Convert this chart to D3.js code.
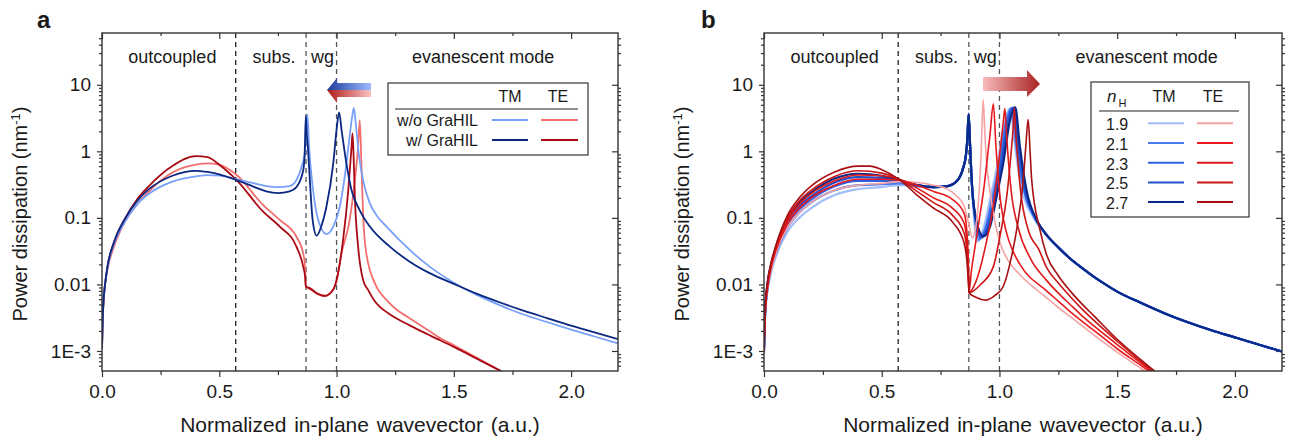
<!DOCTYPE html>
<html>
<head>
<meta charset="utf-8">
<script src="https://cdn.jsdelivr.net/npm/d3@7"></script>
<style>
  body { margin: 0; background: #fff; }
  svg text { font-family: "Liberation Sans", Arial, sans-serif; fill: #1a1a1a; }
</style>
</head>
<body>
<div id="chart"></div>
<script>
// axis ticks and region labels
const xTickValues = [0, 0.5, 1, 1.5, 2];
const xTickLabels = ['0.0', '0.5', '1.0', '1.5', '2.0'];
const xMinorValues = [0.25, 0.75, 1.25, 1.75];
const yTickValues = [1e-3, 0.01, 0.1, 1, 10];
const yTickLabels = ['1E-3', '0.01', '0.1', '1', '10'];
const regionBounds = [0.57, 0.87, 1.0];
const regionLabels = ['outcoupled', 'subs.', 'wg', 'evanescent mode'];
const regionCenters = [0.30, 0.733, 0.94, 1.625];

// panel a: [wavevector, power dissipation]
const aTmWithout = [[0,0.0011],[0.003,0.003],[0.007,0.006],[0.013,0.01],[0.025,0.019],[0.05,0.04],[0.1,0.09],[0.15,0.16],[0.2,0.23],[0.3,0.35],[0.4,0.42],[0.45,0.44],[0.5,0.43],[0.574,0.38],[0.65,0.33],[0.7,0.30],[0.75,0.29],[0.8,0.30],[0.829,0.37],[0.852,0.6],[0.864,0.9],[0.87,1.6],[0.876,3.6],[0.883,1.17],[0.9,0.26],[0.922,0.093],[0.957,0.057],[0.986,0.074],[1.014,0.148],[1.035,0.42],[1.054,1.48],[1.066,3.2],[1.074,4.5],[1.082,2.6],[1.095,0.9],[1.113,0.37],[1.142,0.165],[1.17,0.11],[1.213,0.074],[1.312,0.033],[1.397,0.0185],[1.5,0.0106],[1.6,0.0069],[1.7,0.0048],[1.8,0.0035],[1.9,0.0027],[2.0,0.0021],[2.1,0.00165],[2.2,0.0013]];
const aTmWith = [[0,0.0011],[0.003,0.003],[0.007,0.006],[0.013,0.01],[0.025,0.02],[0.05,0.042],[0.1,0.1],[0.15,0.18],[0.2,0.27],[0.3,0.43],[0.4,0.51],[0.45,0.49],[0.5,0.45],[0.574,0.37],[0.65,0.29],[0.7,0.25],[0.75,0.235],[0.8,0.25],[0.829,0.29],[0.858,0.52],[0.864,0.9],[0.869,3.4],[0.873,1.9],[0.879,1.0],[0.888,0.29],[0.898,0.093],[0.915,0.054],[0.935,0.075],[0.957,0.148],[0.986,0.66],[1.0,2.1],[1.011,3.85],[1.022,2.0],[1.042,0.66],[1.064,0.26],[1.099,0.13],[1.142,0.074],[1.227,0.037],[1.312,0.022],[1.397,0.0148],[1.5,0.0102],[1.6,0.0072],[1.7,0.0053],[1.8,0.004],[1.9,0.0031],[2.0,0.0024],[2.1,0.0019],[2.2,0.0015]];
const aTeWithout = [[0,0.0011],[0.003,0.003],[0.007,0.006],[0.013,0.01],[0.025,0.018],[0.05,0.036],[0.1,0.09],[0.15,0.16],[0.2,0.25],[0.3,0.48],[0.4,0.63],[0.45,0.66],[0.5,0.63],[0.574,0.44],[0.687,0.156],[0.758,0.093],[0.829,0.052],[0.858,0.029],[0.866,0.018],[0.869,0.0093],[0.886,0.0085],[0.92,0.0072],[0.95,0.0068],[0.986,0.0085],[1.0,0.011],[1.021,0.029],[1.056,0.093],[1.078,0.37],[1.092,1.17],[1.099,2.95],[1.106,0.66],[1.113,0.117],[1.127,0.029],[1.17,0.0093],[1.21,0.006],[1.255,0.0042],[1.3,0.0033],[1.369,0.0023],[1.45,0.0015],[1.5,0.00122],[1.6,0.00078],[1.7,0.0005],[1.75,0.0004]];
const aTeWith = [[0,0.0011],[0.003,0.003],[0.007,0.006],[0.013,0.01],[0.025,0.02],[0.05,0.042],[0.1,0.1],[0.15,0.19],[0.2,0.3],[0.3,0.6],[0.4,0.85],[0.45,0.82],[0.5,0.63],[0.574,0.37],[0.687,0.124],[0.758,0.074],[0.829,0.037],[0.858,0.0185],[0.866,0.013],[0.869,0.0093],[0.886,0.0088],[0.92,0.0072],[0.95,0.0067],[0.986,0.0083],[1.0,0.0117],[1.028,0.047],[1.05,0.26],[1.064,1.17],[1.068,1.86],[1.073,0.8],[1.078,0.21],[1.092,0.037],[1.113,0.0117],[1.135,0.0082],[1.16,0.0058],[1.185,0.0046],[1.22,0.0037],[1.27,0.0029],[1.325,0.0023],[1.4,0.0017],[1.5,0.00115],[1.6,0.00076],[1.7,0.0005],[1.75,0.0004]];

// panel b: TM and TE for n_H = 1.9 ... 2.7
const nHValues = ['1.9', '2.1', '2.3', '2.5', '2.7'];
const bTm19 = [[0,0.0009],[0.003,0.0024],[0.007,0.0045],[0.015,0.008],[0.03,0.015],[0.05,0.026],[0.1,0.062],[0.15,0.1],[0.2,0.14],[0.3,0.22],[0.4,0.27],[0.5,0.29],[0.574,0.31],[0.65,0.3],[0.72,0.29],[0.78,0.3],[0.82,0.36],[0.845,0.55],[0.858,0.9],[0.864,1.6],[0.869,3.5],[0.874,1.5],[0.882,0.35],[0.893,0.095],[0.905,0.044],[0.93,0.065],[0.96,0.19],[0.99,0.6],[1.022,2.7],[1.045,4.4],[1.064,1.4],[1.085,0.4],[1.105,0.2],[1.145,0.1],[1.2,0.055],[1.25,0.036],[1.3,0.0245],[1.35,0.0177],[1.4,0.0131],[1.45,0.01],[1.5,0.0078],[1.6,0.0053],[1.7,0.0037],[1.8,0.0027],[1.9,0.00205],[2.0,0.0016],[2.1,0.00125],[2.2,0.00098]];
const bTm21 = [[0,0.001],[0.003,0.0026],[0.007,0.0048],[0.015,0.0088],[0.03,0.017],[0.05,0.029],[0.1,0.072],[0.15,0.12],[0.2,0.17],[0.3,0.26],[0.4,0.31],[0.5,0.32],[0.574,0.33],[0.65,0.3],[0.72,0.29],[0.78,0.3],[0.82,0.36],[0.845,0.55],[0.858,0.9],[0.864,1.6],[0.869,3.5],[0.874,1.5],[0.882,0.36],[0.895,0.1],[0.913,0.047],[0.94,0.07],[0.97,0.2],[0.998,0.62],[1.028,2.8],[1.051,4.5],[1.07,1.3],[1.09,0.45],[1.11,0.22],[1.15,0.1],[1.2,0.055],[1.25,0.036],[1.3,0.0245],[1.35,0.0177],[1.4,0.0131],[1.45,0.01],[1.5,0.0078],[1.6,0.0053],[1.7,0.0037],[1.8,0.0027],[1.9,0.00205],[2.0,0.0016],[2.1,0.00125],[2.2,0.00098]];
const bTm23 = [[0,0.001],[0.003,0.0027],[0.007,0.005],[0.015,0.0093],[0.03,0.018],[0.05,0.032],[0.1,0.082],[0.15,0.135],[0.2,0.19],[0.3,0.3],[0.4,0.36],[0.5,0.36],[0.574,0.35],[0.65,0.31],[0.72,0.29],[0.78,0.3],[0.82,0.36],[0.845,0.55],[0.858,0.9],[0.864,1.6],[0.869,3.6],[0.874,1.55],[0.882,0.36],[0.896,0.105],[0.92,0.05],[0.946,0.072],[0.976,0.2],[1.004,0.64],[1.034,2.9],[1.057,4.5],[1.076,1.25],[1.1,0.33],[1.155,0.095],[1.2,0.055],[1.25,0.036],[1.3,0.0245],[1.35,0.0177],[1.4,0.0131],[1.45,0.01],[1.5,0.0078],[1.6,0.0053],[1.7,0.0037],[1.8,0.0027],[1.9,0.00205],[2.0,0.0016],[2.1,0.00125],[2.2,0.00098]];
const bTm25 = [[0,0.0011],[0.003,0.0028],[0.007,0.0052],[0.015,0.0098],[0.03,0.019],[0.05,0.034],[0.1,0.092],[0.15,0.15],[0.2,0.21],[0.3,0.34],[0.4,0.41],[0.5,0.4],[0.574,0.36],[0.65,0.31],[0.72,0.29],[0.78,0.3],[0.82,0.36],[0.845,0.55],[0.858,0.9],[0.864,1.6],[0.869,3.6],[0.874,1.55],[0.882,0.37],[0.896,0.11],[0.926,0.051],[0.953,0.073],[0.982,0.21],[1.01,0.65],[1.04,2.9],[1.062,4.6],[1.082,1.2],[1.108,0.29],[1.157,0.094],[1.2,0.055],[1.25,0.036],[1.3,0.0245],[1.35,0.0177],[1.4,0.0131],[1.45,0.01],[1.5,0.0078],[1.6,0.0053],[1.7,0.0037],[1.8,0.0027],[1.9,0.00205],[2.0,0.0016],[2.1,0.00125],[2.2,0.00098]];
const bTm27 = [[0,0.0011],[0.003,0.0029],[0.007,0.0055],[0.015,0.0105],[0.03,0.02],[0.05,0.036],[0.1,0.1],[0.15,0.17],[0.2,0.24],[0.3,0.39],[0.4,0.46],[0.5,0.43],[0.574,0.37],[0.65,0.31],[0.72,0.29],[0.78,0.3],[0.82,0.36],[0.845,0.55],[0.858,0.9],[0.864,1.6],[0.869,3.7],[0.874,1.6],[0.882,0.37],[0.896,0.117],[0.932,0.053],[0.96,0.074],[0.988,0.21],[1.016,0.66],[1.045,2.95],[1.067,4.6],[1.087,1.17],[1.115,0.26],[1.158,0.093],[1.2,0.056],[1.25,0.036],[1.3,0.0245],[1.35,0.0177],[1.4,0.0131],[1.45,0.01],[1.5,0.0078],[1.6,0.0053],[1.7,0.0037],[1.8,0.0027],[1.9,0.00205],[2.0,0.0016],[2.1,0.00125],[2.2,0.00098]];
const bTe19 = [[0,0.0009],[0.003,0.0025],[0.007,0.0047],[0.015,0.0085],[0.03,0.016],[0.05,0.029],[0.1,0.072],[0.15,0.12],[0.2,0.17],[0.3,0.26],[0.4,0.31],[0.5,0.33],[0.574,0.35],[0.65,0.34],[0.72,0.31],[0.78,0.27],[0.82,0.21],[0.85,0.15],[0.87,0.08],[0.885,0.05],[0.9,0.075],[0.912,0.2],[0.922,0.9],[0.931,6.0],[0.937,2.2],[0.945,0.7],[0.96,0.25],[0.98,0.09],[1.0,0.045],[1.04,0.022],[1.087,0.014],[1.2,0.0063],[1.25,0.0045],[1.3,0.0033],[1.35,0.0024],[1.4,0.00175],[1.5,0.00096],[1.6,0.00055],[1.7,0.00032]];
const bTe21 = [[0,0.001],[0.003,0.0027],[0.007,0.005],[0.015,0.009],[0.03,0.018],[0.05,0.032],[0.1,0.082],[0.15,0.14],[0.2,0.2],[0.3,0.31],[0.4,0.38],[0.5,0.38],[0.574,0.37],[0.65,0.31],[0.72,0.25],[0.8,0.19],[0.85,0.117],[0.862,0.06],[0.868,0.022],[0.871,0.0078],[0.88,0.015],[0.9,0.045],[0.917,0.11],[0.935,0.3],[0.946,0.66],[0.96,1.8],[0.974,5.2],[0.985,1.2],[1.0,0.25],[1.03,0.06],[1.055,0.033],[1.087,0.02],[1.2,0.008],[1.25,0.0056],[1.3,0.0039],[1.35,0.0028],[1.4,0.00205],[1.5,0.00108],[1.6,0.00061],[1.7,0.00034]];
const bTe23 = [[0,0.001],[0.003,0.0028],[0.007,0.0052],[0.015,0.0095],[0.03,0.019],[0.05,0.034],[0.1,0.092],[0.15,0.16],[0.2,0.23],[0.3,0.36],[0.4,0.44],[0.5,0.43],[0.574,0.38],[0.65,0.28],[0.72,0.2],[0.8,0.14],[0.85,0.083],[0.862,0.04],[0.868,0.016],[0.871,0.0076],[0.9,0.011],[0.946,0.046],[0.975,0.16],[0.988,0.37],[1.005,1.2],[1.015,2.5],[1.023,4.4],[1.03,1.8],[1.035,1.0],[1.05,0.25],[1.08,0.07],[1.13,0.025],[1.2,0.0115],[1.25,0.0074],[1.3,0.005],[1.35,0.0034],[1.4,0.0024],[1.5,0.00125],[1.6,0.00066],[1.7,0.00035]];
const bTe25 = [[0,0.0011],[0.003,0.0029],[0.007,0.0054],[0.015,0.01],[0.03,0.02],[0.05,0.036],[0.1,0.1],[0.15,0.18],[0.2,0.26],[0.3,0.42],[0.4,0.51],[0.5,0.47],[0.574,0.38],[0.65,0.25],[0.72,0.17],[0.8,0.11],[0.85,0.059],[0.862,0.03],[0.868,0.013],[0.871,0.0075],[0.92,0.01],[0.974,0.0185],[1.005,0.06],[1.031,0.21],[1.05,1.0],[1.058,2.2],[1.063,4.5],[1.068,2.2],[1.075,1.0],[1.09,0.25],[1.12,0.07],[1.17,0.032],[1.2,0.018],[1.25,0.0105],[1.3,0.0066],[1.35,0.0043],[1.4,0.0029],[1.5,0.0014],[1.6,0.0007],[1.7,0.00036]];
const bTe27 = [[0,0.0011],[0.003,0.003],[0.007,0.0056],[0.015,0.011],[0.03,0.021],[0.05,0.038],[0.1,0.11],[0.15,0.2],[0.2,0.3],[0.3,0.49],[0.4,0.6],[0.45,0.6],[0.5,0.53],[0.574,0.38],[0.65,0.22],[0.72,0.14],[0.8,0.087],[0.85,0.042],[0.862,0.022],[0.868,0.011],[0.871,0.0075],[0.9,0.0064],[0.94,0.0058],[0.98,0.0068],[1.016,0.0093],[1.05,0.025],[1.073,0.066],[1.101,0.37],[1.112,1.2],[1.122,3.0],[1.13,1.0],[1.137,0.37],[1.172,0.066],[1.2,0.028],[1.25,0.0135],[1.3,0.008],[1.35,0.0051],[1.4,0.0034],[1.5,0.0015],[1.6,0.00074],[1.7,0.00038]];

const aColors = { tmWithout: '#78a0fa', tmWith: '#0a2882', teWithout: '#f46e6e', teWith: '#aa0a14' };
const bTmColors = ['#a3bdfa', '#4a7cf0', '#2d5fe0', '#2150c8', '#0a2a8a'];
const bTeColors = ['#f5a3a3', '#e8191e', '#e01a1a', '#cc1616', '#a80f12'];

const WIDTH = 1289;
const HEIGHT = 443;
const TOP = 33;
const BOTTOM = 371;

const svg = d3.select('#chart').append('svg')
  .attr('width', WIDTH)
  .attr('height', HEIGHT);

const defs = svg.append('defs');

const addGradient = (id, from, to) => {
  const grad = defs.append('linearGradient').attr('id', id)
    .attr('x1', '0%').attr('x2', '100%').attr('y1', '0%').attr('y2', '0%');
  grad.append('stop').attr('offset', '0%').attr('stop-color', from);
  grad.append('stop').attr('offset', '100%').attr('stop-color', to);
};
addGradient('grad-blue-left', '#1c3c9c', '#9dbcff');
addGradient('grad-red-left', '#b01818', '#fac4c4');
addGradient('grad-red-right', '#f8bcbc', '#a82222');

const drawPanel = ({ left, right, id, letter, letterX, curves }) => {
  const x = d3.scaleLinear().domain([0, 2.2]).range([left, right]);
  const y = d3.scaleLog().domain([5e-4, 60]).range([BOTTOM, TOP]);
  const g = svg.append('g').attr('id', id);

  defs.append('clipPath').attr('id', `clip-${id}`)
    .append('rect')
    .attr('x', left).attr('y', TOP)
    .attr('width', right - left).attr('height', BOTTOM - TOP);

  // minor log ticks 2..9 per decade
  const yMinor = [];
  [1e-4, 1e-3, 1e-2, 1e-1, 1, 10].forEach((dec) => {
    for (let k = 2; k <= 9; k++) {
      const v = dec * k;
      if (v > 5e-4 && v < 60) yMinor.push(v);
    }
  });

  const styleAxis = (sel) => {
    sel.select('.domain').remove();
    sel.selectAll('line').attr('stroke', '#333').attr('stroke-width', 1.2);
    sel.selectAll('text').style('font-size', '19px').attr('fill', '#1a1a1a');
  };

  g.append('g').attr('transform', `translate(0,${BOTTOM})`)
    .call(d3.axisBottom(x).tickValues(xTickValues)
      .tickFormat((d, i) => xTickLabels[i]).tickSize(6).tickPadding(8))
    .call(styleAxis);
  g.append('g').attr('transform', `translate(0,${BOTTOM})`)
    .call(d3.axisBottom(x).tickValues(xMinorValues).tickFormat('').tickSize(4))
    .call(styleAxis);
  g.append('g').attr('transform', `translate(0,${TOP})`)
    .call(d3.axisTop(x).tickValues(xTickValues).tickFormat('').tickSize(-6))
    .call(styleAxis);
  g.append('g').attr('transform', `translate(0,${TOP})`)
    .call(d3.axisTop(x).tickValues(xMinorValues).tickFormat('').tickSize(-3))
    .call(styleAxis);

  g.append('g').attr('transform', `translate(${left},0)`)
    .call(d3.axisLeft(y).tickValues(yTickValues)
      .tickFormat((d, i) => yTickLabels[i]).tickSize(5).tickPadding(6))
    .call(styleAxis);
  g.append('g').attr('transform', `translate(${left},0)`)
    .call(d3.axisLeft(y).tickValues(yMinor).tickFormat('').tickSize(3))
    .call(styleAxis);
  g.append('g').attr('transform', `translate(${right},0)`)
    .call(d3.axisRight(y).tickValues(yTickValues).tickFormat('').tickSize(-6))
    .call(styleAxis);
  g.append('g').attr('transform', `translate(${right},0)`)
    .call(d3.axisRight(y).tickValues(yMinor).tickFormat('').tickSize(3))
    .call(styleAxis);

  // region boundaries
  g.selectAll('.bound')
    .data(regionBounds)
    .join('line')
    .attr('class', 'bound')
    .attr('x1', (d) => x(d)).attr('x2', (d) => x(d))
    .attr('y1', TOP).attr('y2', BOTTOM)
    .attr('stroke', (d, i) => (i === 0 ? '#222' : '#555'))
    .attr('stroke-width', 1.3)
    .attr('stroke-dasharray', '5,4');

  g.selectAll('.region')
    .data(regionLabels)
    .join('text')
    .attr('class', 'region')
    .attr('x', (d, i) => x(regionCenters[i]))
    .attr('y', 63)
    .attr('text-anchor', 'middle')
    .style('font-size', '18px')
    .text((d) => d);

  const line = d3.line()
    .x((d) => x(d[0]))
    .y((d) => y(d[1]))
    .curve(d3.curveMonotoneX);

  g.append('g')
    .attr('clip-path', `url(#clip-${id})`)
    .selectAll('path')
    .data(curves)
    .join('path')
    .attr('d', (d) => line(d.values))
    .attr('fill', 'none')
    .attr('stroke', (d) => d.color)
    .attr('stroke-width', (d) => d.width)
    .attr('stroke-linejoin', 'round');

  g.append('rect')
    .attr('x', left).attr('y', TOP)
    .attr('width', right - left).attr('height', BOTTOM - TOP)
    .attr('fill', 'none')
    .attr('stroke', '#333')
    .attr('stroke-width', 1.4);

  // titles
  g.append('text')
    .attr('x', letterX).attr('y', 28)
    .style('font-size', '24px').style('font-weight', 'bold')
    .text(letter);

  const yTitle = g.append('text')
    .attr('transform', `translate(${left - 75},214) rotate(-90)`)
    .attr('text-anchor', 'middle')
    .style('font-size', '20px');
  yTitle.append('tspan').text('Power dissipation (nm');
  yTitle.append('tspan').attr('dy', -7).style('font-size', '13px').text('-1');
  yTitle.append('tspan').attr('dy', 7).text(')');

  g.append('text')
    .attr('x', (left + right) / 2).attr('y', 432)
    .attr('text-anchor', 'middle')
    .style('font-size', '21px')
    .style('word-spacing', '2px')
    .text('Normalized in-plane wavevector (a.u.)');

  return g;
};

// panel a
const panelA = drawPanel({
  left: 102, right: 618, id: 'pa', letter: 'a', letterX: 37,
  curves: [
    { values: aTeWithout, color: aColors.teWithout, width: 1.8 },
    { values: aTeWith, color: aColors.teWith, width: 1.8 },
    { values: aTmWithout, color: aColors.tmWithout, width: 1.8 },
    { values: aTmWith, color: aColors.tmWith, width: 1.8 },
  ],
});

// panel a arrow (two halves)
panelA.append('polygon')
  .attr('points', '327,90 337,78 337,83 371,83 371,90')
  .attr('fill', 'url(#grad-blue-left)');
panelA.append('polygon')
  .attr('points', '327,90 371,90 371,97 337,97 337,103')
  .attr('fill', 'url(#grad-red-left)');

// panel a legend
panelA.append('rect')
  .attr('x', 388).attr('y', 83).attr('width', 200).attr('height', 72)
  .attr('fill', '#fff').attr('stroke', '#444').attr('stroke-width', 1.3);
panelA.append('text').attr('x', 510).attr('y', 102).attr('text-anchor', 'middle')
  .style('font-size', '16px').text('TM');
panelA.append('text').attr('x', 558).attr('y', 102).attr('text-anchor', 'middle')
  .style('font-size', '16px').text('TE');
panelA.append('line').attr('x1', 395).attr('x2', 578).attr('y1', 109).attr('y2', 109)
  .attr('stroke', '#222').attr('stroke-width', 1.2);
const aLegendRows = [
  { label: 'w/o GraHIL', tm: aColors.tmWithout, te: aColors.teWithout },
  { label: 'w/ GraHIL', tm: aColors.tmWith, te: aColors.teWith },
];
aLegendRows.forEach((row, i) => {
  const yy = 120 + i * 20;
  panelA.append('text').attr('x', 478).attr('y', yy + 6).attr('text-anchor', 'end')
    .style('font-size', '16px').text(row.label);
  panelA.append('line').attr('x1', 492).attr('x2', 528).attr('y1', yy).attr('y2', yy)
    .attr('stroke', row.tm).attr('stroke-width', 2);
  panelA.append('line').attr('x1', 541).attr('x2', 578).attr('y1', yy).attr('y2', yy)
    .attr('stroke', row.te).attr('stroke-width', 2);
});

// panel b
const bTm = [bTm19, bTm21, bTm23, bTm25, bTm27];
const bTe = [bTe19, bTe21, bTe23, bTe25, bTe27];
const panelB = drawPanel({
  left: 764, right: 1282, id: 'pb', letter: 'b', letterX: 701,
  curves: [
    ...bTm.map((values, i) => ({ values, color: bTmColors[i], width: 2.2 })),
    ...bTe.map((values, i) => ({ values, color: bTeColors[i], width: 1.6 })),
  ],
});

panelB.append('polygon')
  .attr('points', '983,77 1027,77 1027,70 1040,84 1027,97 1027,91 983,91')
  .attr('fill', 'url(#grad-red-right)');

panelB.append('rect')
  .attr('x', 1091).attr('y', 82).attr('width', 158).attr('height', 135)
  .attr('fill', '#fff').attr('stroke', '#444').attr('stroke-width', 1.3);
const nH = panelB.append('text').attr('x', 1107).attr('y', 102).style('font-size', '17px');
nH.append('tspan').style('font-style', 'italic').text('n');
nH.append('tspan').attr('dx', 2).attr('dy', 5).style('font-size', '11px').text('H');
panelB.append('text').attr('x', 1164).attr('y', 102).attr('text-anchor', 'middle')
  .style('font-size', '16px').text('TM');
panelB.append('text').attr('x', 1213).attr('y', 102).attr('text-anchor', 'middle')
  .style('font-size', '16px').text('TE');
panelB.append('line').attr('x1', 1099).attr('x2', 1239).attr('y1', 111).attr('y2', 111)
  .attr('stroke', '#222').attr('stroke-width', 1.2);
nHValues.forEach((label, i) => {
  const yy = 123.3 + i * 19.7;
  panelB.append('text').attr('x', 1106).attr('y', yy + 7).style('font-size', '16px').text(label);
  panelB.append('line').attr('x1', 1148).attr('x2', 1184).attr('y1', yy).attr('y2', yy)
    .attr('stroke', bTmColors[i]).attr('stroke-width', 2);
  panelB.append('line').attr('x1', 1197).attr('x2', 1233).attr('y1', yy).attr('y2', yy)
    .attr('stroke', bTeColors[i]).attr('stroke-width', 2);
});
</script>
</body>
</html>
